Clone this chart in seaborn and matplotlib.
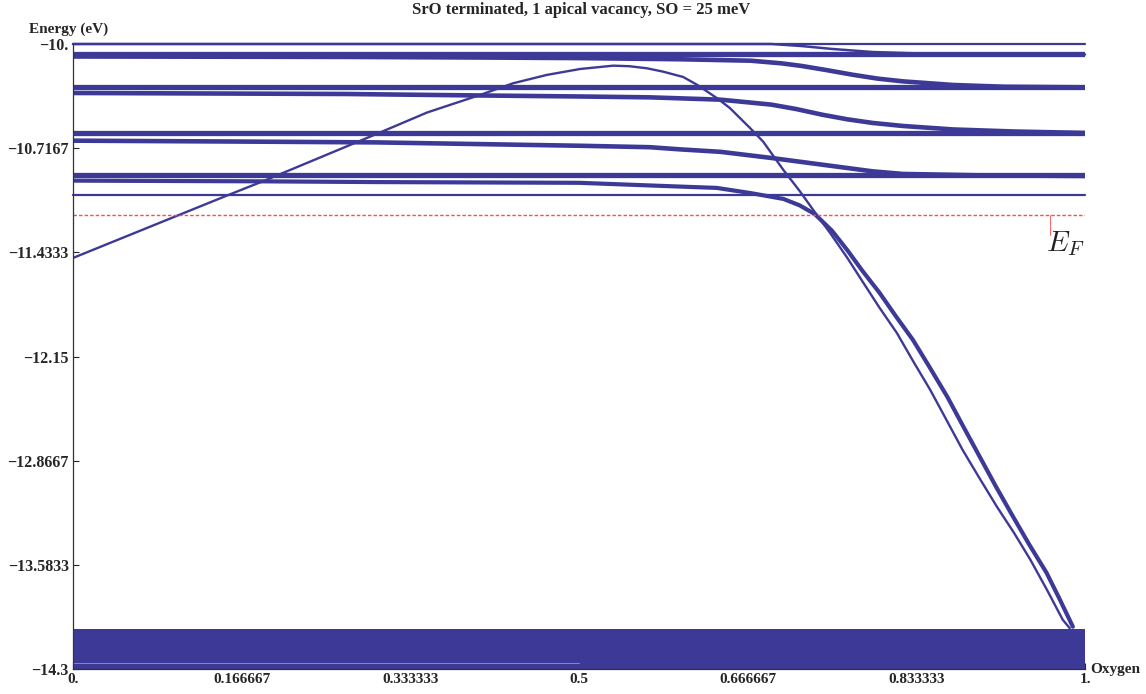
import matplotlib
matplotlib.use("Agg")
import matplotlib.pyplot as plt
import seaborn as sns
import numpy as np

# ---------------- data ----------------
x_flat = [0.0, 1.0]
flat_thin = [-10.0, -11.036]                       # thin flat levels
flat_thick = [-10.069, -10.298, -10.612, -10.901]  # thick flat bands

top_x = [0.0, 0.69, 0.72, 0.75, 0.79, 0.85, 1.0]
top_e = [-10.0, -10.0, -10.014, -10.034, -10.055, -10.068, -10.072]

bandB_x = [0.0, 0.27, 0.4, 0.5, 0.6, 0.67, 0.70, 0.72, 0.745, 0.77, 0.795, 0.82,
           0.87, 0.92, 1.0]
bandB_e = [-10.086, -10.089, -10.093, -10.097, -10.105, -10.115, -10.133, -10.151,
           -10.180, -10.211, -10.238, -10.257, -10.282, -10.294, -10.298]

bandD_x = [0.0, 0.27, 0.4, 0.5, 0.57, 0.64, 0.69, 0.715, 0.74, 0.765, 0.79, 0.82,
           0.87, 0.93, 1.0]
bandD_e = [-10.337, -10.344, -10.354, -10.361, -10.367, -10.383, -10.417, -10.448,
           -10.486, -10.518, -10.543, -10.564, -10.588, -10.602, -10.612]

bandF_x = [0.0, 0.16, 0.3, 0.5, 0.57, 0.6, 0.64, 0.69, 0.74, 0.79, 0.82, 0.9, 1.0]
bandF_e = [-10.665, -10.671, -10.677, -10.700, -10.710, -10.725, -10.742, -10.784,
           -10.830, -10.876, -10.894, -10.904, -10.908]

bandH_x = [0.0, 0.19, 0.3, 0.5, 0.6, 0.636, 0.669, 0.702, 0.718, 0.733, 0.75, 0.765,
           0.78, 0.797, 0.813, 0.830, 0.847, 0.864, 0.88, 0.896, 0.912, 0.929, 0.945,
           0.962, 0.975, 0.988]
bandH_e = [-10.940, -10.945, -10.950, -10.955, -10.981, -10.990, -11.025, -11.066,
           -11.110, -11.170, -11.285, -11.417, -11.560, -11.712, -11.872, -12.036,
           -12.230, -12.428, -12.635, -12.840, -13.045, -13.253, -13.445, -13.638,
           -13.820, -14.009]

peak_x = [0.0, 0.102, 0.152, 0.191, 0.303, 0.35, 0.402, 0.435, 0.468, 0.501, 0.534,
          0.550, 0.567, 0.583, 0.603, 0.617, 0.636, 0.649, 0.669, 0.682, 0.702,
          0.718, 0.735, 0.748, 0.765, 0.781, 0.797, 0.814, 0.830, 0.847, 0.863,
          0.879, 0.896, 0.913, 0.930, 0.946, 0.962, 0.978, 0.985]
peak_e = [-11.472, -11.184, -11.043, -10.935, -10.610, -10.471, -10.351, -10.270,
          -10.213, -10.172, -10.149, -10.153, -10.167, -10.190, -10.227, -10.282,
          -10.371, -10.440, -10.578, -10.672, -10.867, -11.011, -11.176, -11.299,
          -11.470, -11.643, -11.815, -11.987, -12.180, -12.379, -12.585, -12.792,
          -12.990, -13.184, -13.365, -13.548, -13.750, -13.961, -14.02]

block_x = [0.0, 1.0]
block_top = [-14.023, -14.023]
block_bottom = [-14.3, -14.3]
gap_x = [0.0, 0.5]
gap_e = [-14.256, -14.256]

fermi = -11.176

yticks = [-10.0, -10.7167, -11.4333, -12.15, -12.8667, -13.5833, -14.3]
ytick_labels = ["\u221210.", "\u221210.7167", "\u221211.4333", "\u221212.15",
                "\u221212.8667", "\u221213.5833", "\u221214.3"]
xticks = [0.0, 1/6, 1/3, 0.5, 2/3, 5/6, 1.0]
xtick_labels = ["0.", "0.166667", "0.333333", "0.5", "0.666667", "0.833333", "1."]

title = "SrO terminated, 1 apical vacancy, SO = 25 meV"

# ---------------- style ----------------
sns.set_style("ticks")
plt.rcParams["font.family"] = ["Liberation Serif", "DejaVu Serif"]
plt.rcParams["mathtext.fontset"] = "cm"

blue = "#3D3A97"
red = "#FF4A4A"

fig = plt.figure(figsize=(11.46, 6.94), dpi=100)
ax = fig.add_axes([73/1146, 1 - 669/694, 1012/1146, 625/694])

# bottom dense block of bands
ax.fill_between(block_x, block_bottom, block_top, color=blue, lw=0, zorder=2)
sns.lineplot(x=gap_x, y=gap_e, ax=ax, color="white", lw=0.7, alpha=0.4,
             estimator=None, sort=False, zorder=3)

for e in flat_thin:
    sns.lineplot(x=x_flat, y=[e, e], ax=ax, color=blue, lw=1.6,
                 estimator=None, sort=False, zorder=3, clip_on=False)
for e in flat_thick:
    sns.lineplot(x=x_flat, y=[e, e], ax=ax, color=blue, lw=3.8,
                 estimator=None, sort=False, zorder=3)

sns.lineplot(x=top_x, y=top_e, ax=ax, color=blue, lw=1.8, estimator=None, sort=False,
             zorder=3, clip_on=False)
for xs, es in [(bandB_x, bandB_e), (bandD_x, bandD_e), (bandF_x, bandF_e)]:
    sns.lineplot(x=xs, y=es, ax=ax, color=blue, lw=3.3, estimator=None, sort=False,
                 zorder=3)
sns.lineplot(x=bandH_x, y=bandH_e, ax=ax, color=blue, lw=3.0, estimator=None,
             sort=False, zorder=3)
sns.lineplot(x=peak_x, y=peak_e, ax=ax, color=blue, lw=1.7, estimator=None,
             sort=False, zorder=4)

# Fermi level
ax.axhline(fermi, color=red, lw=1.0, ls=(0, (2.5, 1.5)), zorder=5)
ax.plot([0.9655, 0.9655], [fermi, fermi - 0.14], color=red, lw=0.6, zorder=5)
ax.text(0.9995, fermi - 0.10, r"$E_F$", ha="right", va="top", fontsize=21,
        color="#222222")

# axes
ax.set_xlim(0, 1)
ax.set_ylim(-14.3, -10.0)
ax.set_xticks(xticks)
ax.set_xticklabels(xtick_labels, fontweight="bold", fontsize=11)
ax.set_yticks(yticks)
ax.set_yticklabels(ytick_labels, fontweight="bold", fontsize=11.5)
ax.tick_params(direction="in", length=4, width=0.8, pad=3)
ax.set_xlabel("")
ax.set_ylabel("")
for s in ["top", "right"]:
    ax.spines[s].set_visible(False)
for s in ["left", "bottom"]:
    ax.spines[s].set_linewidth(0.9)
    ax.spines[s].set_color("#333333")
    ax.spines[s].set_zorder(6)

ax.text(-0.004, 1.024, "Energy (eV)", transform=ax.transAxes, ha="center",
        va="center", fontweight="bold", fontsize=11)
ax.text(1.005, 0.0, "Oxygen", transform=ax.transAxes, ha="left", va="center",
        fontweight="bold", fontsize=11)
fig.text(0.507, 1 - 10/694, title, ha="center", va="center", fontweight="bold",
         fontsize=12)

fig.savefig("out.png", dpi=100)
